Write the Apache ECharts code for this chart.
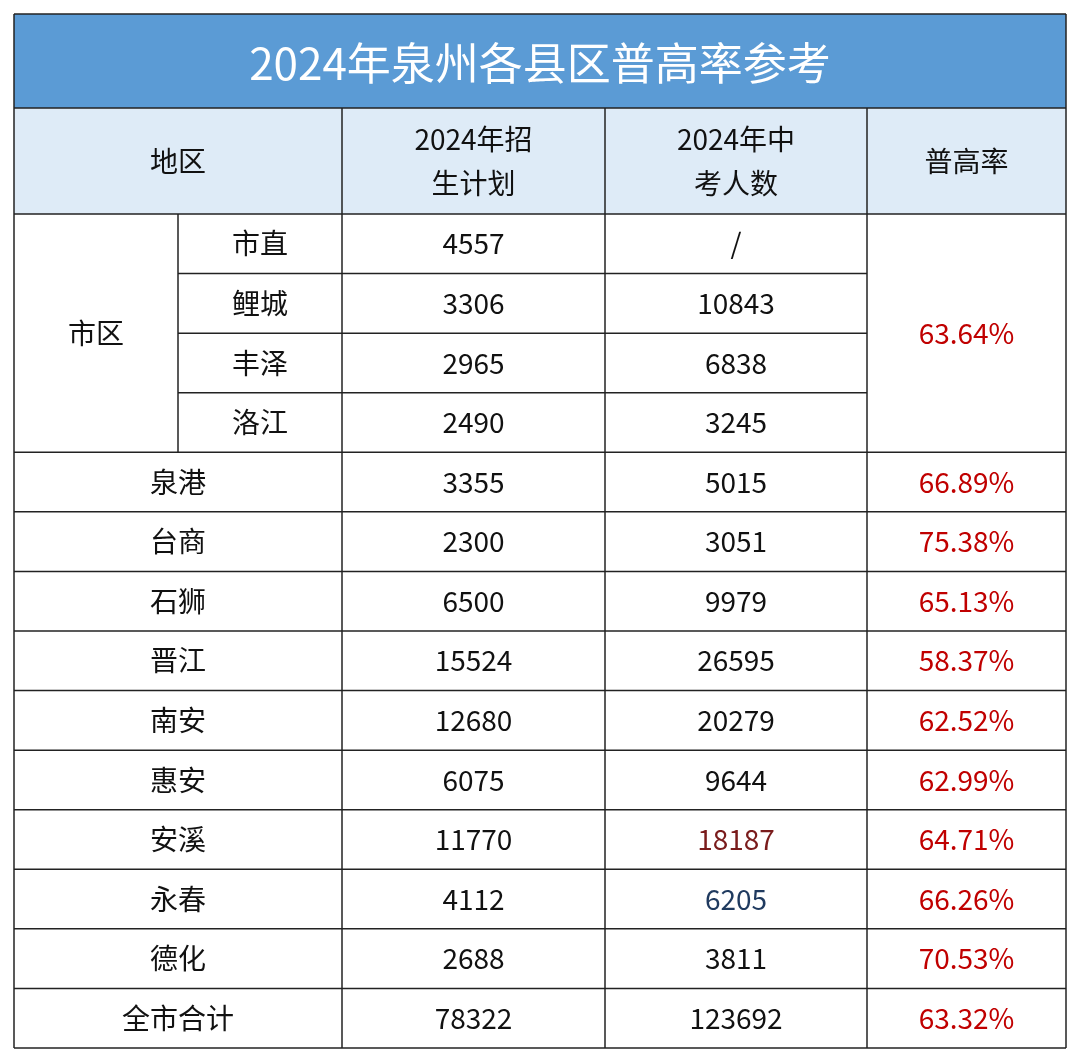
<!DOCTYPE html>
<html><head><meta charset="utf-8">
<script src="https://cdn.jsdelivr.net/npm/echarts@6/dist/echarts.min.js"></script>
<style>html,body{margin:0;padding:0;background:#fff}#c{width:1080px;height:1061px}</style>
</head><body><div id="c"></div>
<script>
var title = '2024年泉州各县区普高率参考';
var headers = ['地区', '2024年招\n生计划', '2024年中\n考人数', '普高率'];
var cityParts = ['市直', '鲤城', '丰泽', '洛江'];
var cityPlan = ['4557', '3306', '2965', '2490'];
var cityExam = ['/', '10843', '6838', '3245'];
var cityRate = '63.64%';
var regions = ['泉港', '台商', '石狮', '晋江', '南安', '惠安', '安溪', '永春', '德化', '全市合计'];
var plan = ['3355', '2300', '6500', '15524', '12680', '6075', '11770', '4112', '2688', '78322'];
var exam = ['5015', '3051', '9979', '26595', '20279', '9644', '18187', '6205', '3811', '123692'];
var rate = ['66.89%', '75.38%', '65.13%', '58.37%', '62.52%', '62.99%', '64.71%', '66.26%', '70.53%', '63.32%'];
var examColor = { '18187': '#7a1c1c', '6205': '#1f3a5f' };

var chart = echarts.init(document.getElementById('c'));
var X = [14, 178, 342, 605, 867, 1066];
var T0 = 14, T1 = 108, H1 = 214, B = 1048;
var rh = (B - H1) / 14;
var els = [];
var font = '"Noto Sans CJK SC", sans-serif';

function rect(x, y, w, h, fill) {
  els.push({ type: 'rect', shape: { x: x, y: y, width: w, height: h }, style: { fill: fill } });
}
function line(x1, y1, x2, y2) {
  els.push({ type: 'line', shape: { x1: x1, y1: y1, x2: x2, y2: y2 }, style: { stroke: '#222', lineWidth: 1.5 } });
}
function text(s, cx, cy, color, size, lh) {
  els.push({ type: 'text', x: cx, y: cy, style: { text: s, fill: color || '#111', font: (size || 28) + 'px ' + font,
    align: 'center', verticalAlign: 'middle', lineHeight: lh || 44 } });
}

rect(X[0], T0, X[5] - X[0], T1 - T0, '#5b9bd5');
rect(X[0], T1, X[5] - X[0], H1 - T1, '#deebf7');
text(title, (X[0] + X[5]) / 2, (T0 + T1) / 2 + 2, '#fff', 44);

// header
text(headers[0], (X[0] + X[2]) / 2, (T1 + H1) / 2);
for (var i = 1; i < 4; i++) text(headers[i], (X[i + 1] + X[i + 2]) / 2, (T1 + H1) / 2);

// city block
for (var i = 0; i < 4; i++) {
  var cy = H1 + rh * (i + 0.5);
  text(cityParts[i], (X[1] + X[2]) / 2, cy);
  text(cityPlan[i], (X[2] + X[3]) / 2, cy);
  text(cityExam[i], (X[3] + X[4]) / 2, cy);
}
text('市区', (X[0] + X[1]) / 2, H1 + rh * 2);
text(cityRate, (X[4] + X[5]) / 2, H1 + rh * 2, '#c00000');

for (var i = 0; i < regions.length; i++) {
  var cy = H1 + rh * (i + 4.5);
  text(regions[i], (X[0] + X[2]) / 2, cy);
  text(plan[i], (X[2] + X[3]) / 2, cy);
  text(exam[i], (X[3] + X[4]) / 2, cy, examColor[exam[i]] || '#111');
  text(rate[i], (X[4] + X[5]) / 2, cy, '#c00000');
}

// grid lines
line(X[0], T0, X[5], T0);
line(X[0], T1, X[5], T1);
line(X[0], H1, X[5], H1);
for (var r = 1; r <= 14; r++) {
  var y = H1 + rh * r;
  if (r < 4) line(X[1], y, X[4], y);
  else line(X[0], y, X[5], y);
}
line(X[0], T0, X[0], B);
line(X[5], T0, X[5], B);
line(X[1], H1, X[1], H1 + rh * 4);
line(X[2], T1, X[2], B);
line(X[3], T1, X[3], B);
line(X[4], T1, X[4], B);

chart.setOption({ animation: false, graphic: { elements: els } });
</script></body></html>
